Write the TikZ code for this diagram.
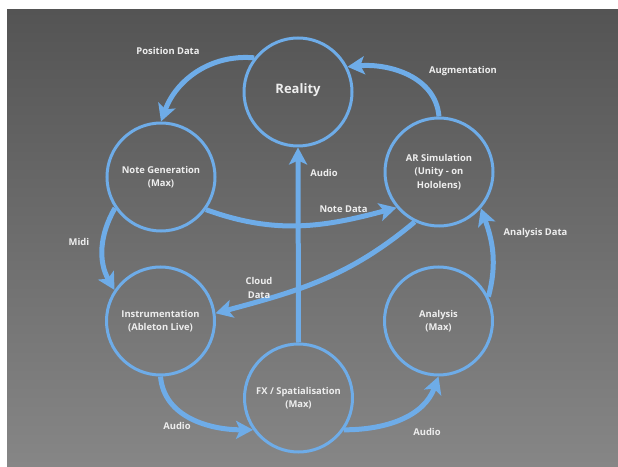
\documentclass[tikz,border=0pt]{standalone}
\usepackage{fontspec}
\setmainfont{Open Sans}
\usepackage{tikz}
\usetikzlibrary{arrows.meta}
\definecolor{linkblue}{RGB}{110,172,232}
\definecolor{bgtop}{RGB}{84,84,84}
\definecolor{bgbottom}{RGB}{134,134,134}
\definecolor{labelgrey}{RGB}{238,238,238}
\tikzstyle{stage} = [draw=linkblue, line width=3pt, circle, minimum size=108pt, inner sep=0pt, align=center, text=labelgrey, font=\fontsize{9.4}{13.5}\selectfont\bfseries]
\tikzstyle{flow} = [draw=linkblue, line width=5pt, -{Stealth[length=17pt,width=18pt,inset=4pt]}]
\tikzstyle{tag} = [text=labelgrey, align=center, inner sep=0pt, font=\fontsize{9.4}{13.5}\selectfont\bfseries]

\begin{document}
\begin{tikzpicture}[x=1pt,y=1pt]
	\useasboundingbox (0,0) rectangle (618,466);
	\fill[white] (0,0) rectangle (618,466);
	\shade[top color=bgtop, bottom color=bgbottom] (7,0) rectangle (618,456);
	\node[stage] (reality) at (298,374) {\fontsize{13}{15}\selectfont\raisebox{6pt}{Reality}};
	\node[stage] (notegen) at (161,289) {Note Generation\\(Max)};
	\node[stage] (arsim) at (439,294) {AR Simulation\\(Unity - on\\Hololens)};
	\node[stage] (instr) at (160.5,145) {Instrumentation\\(Ableton Live)};
	\node[stage] (analysis) at (438.5,145) {Analysis\\(Max)};
	\node[stage] (fx) at (298.5,68) {FX / Spatialisation\\(Max)};
	\draw[flow] (reality.142) to[out=175,in=70] (notegen.90);
	\draw[flow] (arsim.90) to[out=95,in=5] (reality.27);
	\draw[flow] (notegen.-36) to[out=-20,in=195] (arsim.220);
	\draw[flow] (arsim.244) to[out=220,in=15] (instr.8);
	\draw[flow] (notegen.214) to[out=240,in=120] (instr.146);
	\draw[flow] (fx.90) -- (reality.270);
	\draw[flow] (instr.270) to[out=-85,in=180] (fx.215);
	\draw[flow] (fx.-35) to[out=0,in=250] (analysis.270);
	\draw[flow] (analysis.26) to[out=75,in=-70] (arsim.-41);
	\node[tag] (postag) at (168,415) {Position Data};
	\node[tag] (augtag) at (463,395) {Augmentation};
	\node[tag] (notetag) at (343.5,257) {Note Data};
	\node[tag] (cloudtag) at (259,178) {Cloud\\Data};
	\node[tag] (miditag) at (79,224) {Midi};
	\node[tag] (audiotagA) at (324,293) {Audio};
	\node[tag] (audiotagB) at (177,40) {Audio};
	\node[tag] (audiotagC) at (427,34) {Audio};
	\node[tag] (analysistag) at (535.5,233.3) {Analysis Data};
\end{tikzpicture}
\end{document}
